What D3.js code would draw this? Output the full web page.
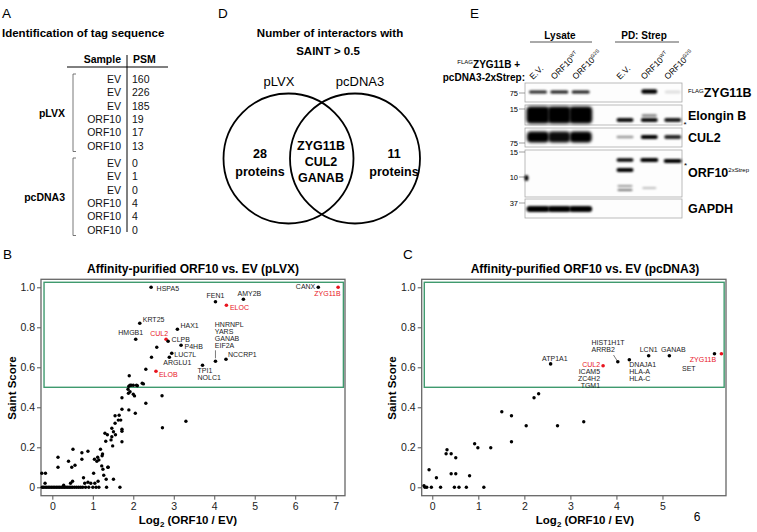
<!DOCTYPE html>
<html><head><meta charset="utf-8">
<script src="https://cdn.jsdelivr.net/npm/d3@7"></script>
<style>
body{margin:0;background:#fff}
svg{display:block}
text{font-family:"Liberation Sans",Arial,Helvetica,sans-serif}
</style>
</head><body>
<svg id="fig" width="757" height="532"></svg>
<script>
// ---------------- DATA ----------------
// Panel A
const tableGroups = ["pLVX", "pcDNA3"];
const tableSamples = ["EV", "EV", "EV", "ORF10", "ORF10", "ORF10"];
const psmPLVX = [160, 226, 185, 19, 17, 13];
const psmPcDNA3 = [0, 1, 0, 4, 4, 0];

// Panel D
const vennSets = ["pLVX", "pcDNA3"];
const vennUnique = [28, 11];
const vennShared = ["ZYG11B", "CUL2", "GANAB"];

// Panel B (pLVX) labeled points
const bLabeled = [
  {names:["HSPA5"], x:2.44, y:1.00, hit:false},
  {names:["FEN1"], x:4.03, y:0.928, hit:false},
  {names:["AMY2B"], x:4.72, y:0.94, hit:false},
  {names:["ELOC"], x:4.30, y:0.91, hit:true},
  {names:["CANX"], x:6.57, y:1.00, hit:false},
  {names:["ZYG11B"], x:7.06, y:1.00, hit:true},
  {names:["KRT25"], x:2.16, y:0.82, hit:false},
  {names:["HAX1"], x:3.09, y:0.79, hit:false},
  {names:["HMGB1"], x:2.06, y:0.74, hit:false},
  {names:["CUL2"], x:2.81, y:0.74, hit:true},
  {names:["CLPB"], x:2.86, y:0.73, hit:false},
  {names:["P4HB"], x:3.18, y:0.71, hit:false},
  {names:["LUC7L"], x:2.95, y:0.67, hit:false},
  {names:["ARGLU1"], x:2.89, y:0.65, hit:false},
  {names:["NCCRP1"], x:4.29, y:0.64, hit:false},
  {names:["HNRNPL","YARS","GANAB","EIF2A"], x:4.03, y:0.63, hit:false},
  {names:["TPI1","NOLC1"], x:3.71, y:0.61, hit:false},
  {names:["ELOB"], x:2.56, y:0.58, hit:true}
];
// Panel B unlabeled points
const bX = [2.58,2.45,2.31,1.90,2.22,2.08,1.92,1.95,1.89,2.00,1.87,1.92,2.00,2.03,1.88,2.71,1.72,2.31,1.89,1.72,2.05,2.72,3.30,1.65,1.55,1.69,1.63,1.72,1.72,1.55,1.47,1.51,1.30,1.36,1.56,1.47,1.72,1.45,1.32,1.49,1.23,1.38,1.22,
  -0.26,-0.17,0.14,0.14,0.51,0.40,0.48,0.56,0.73,0.88,0.73,1.04,1.12,1.15,1.10,1.19,1.24,0.77,1.02,1.25,1.37,1.27,1.33,1.51,1.67,1.34,0.95,0.88,0.80,1.05,1.13,0.50,0.45,-0.18,0.28,2.10,2.25,
  -0.25,-0.22,-0.18,-0.14,-0.10,-0.06,-0.02,0.02,0.06,0.10,0.14,0.18,0.22,0.26,0.30,0.34,0.38,0.42,0.46,0.50,0.55,0.60,0.65,0.70,0.75,0.82,0.90,1.00,1.08,1.15];
const bY = [0.70,0.65,0.59,0.558,0.52,0.51,0.51,0.51,0.505,0.51,0.49,0.478,0.465,0.457,0.47,0.458,0.448,0.42,0.387,0.39,0.37,0.298,0.33,0.36,0.358,0.336,0.336,0.29,0.28,0.32,0.295,0.278,0.27,0.263,0.263,0.253,0.228,0.237,0.23,0.207,0.158,0.10,0.107,
  0.07,0.07,0.15,0.10,0.19,0.13,0.10,0.11,0.173,0.18,0.14,0.14,0.15,0.137,0.13,0.19,0.167,0.048,0.07,0.09,0.10,0.06,0.04,0.04,0.0,0.0,0.02,0.025,0.02,0.02,0.03,0.03,0.02,0.02,0.01,0.508,0.517,
  0,0,0,0,0,0,0,0,0,0,0,0,0,0,0,0,0,0,0,0,0,0,0,0,0,0,0,0,0,0];

// Panel C (pcDNA3) labeled points
const cLabeled = [
  {names:["ATP1A1"], x:2.57, y:0.617, hit:false},
  {names:["CUL2","ICAM5","ZC4H2","TGM1"], x:3.71, y:0.608, hit:true},
  {names:["HIST1H1T","ARRB2"], x:4.03, y:0.628, hit:false},
  {names:["DNAJA1","HLA-A","HLA-C"], x:4.28, y:0.638, hit:false},
  {names:["LCN1"], x:4.70, y:0.658, hit:false},
  {names:["GANAB"], x:5.15, y:0.658, hit:false},
  {names:["SET"], x:6.13, y:0.668, hit:false},
  {names:["ZYG11B"], x:6.28, y:0.668, hit:true}
];
const cX = [2.31,2.21,1.51,1.72,2.04,2.72,3.29,1.72,1.27,0.92,0.99,0.32,0.30,0.41,0.51,-0.07,0.09,0.41,0.51,0.81,-0.18,-0.16,-0.12,-0.02,0.18,0.48,0.58,0.74,1.12];
const cY = [0.468,0.448,0.378,0.358,0.308,0.308,0.328,0.228,0.198,0.218,0.198,0.188,0.168,0.168,0.148,0.088,0.048,0.068,0.068,0.058,0.008,0,0,0,0,0,0,0,0];

const saintTicks = [0, 0.2, 0.4, 0.6, 0.8, 1.0];
const bXTicks = [0, 1, 2, 3, 4, 5, 6, 7];
const cXTicks = [0, 1, 2, 3, 4, 5];
const saintThreshold = 0.5;

// Panel E (western blot)
const blotLanes = ["E.V.", "ORF10", "ORF10", "E.V.", "ORF10", "ORF10"];
const blotLaneSup = ["", "WT", "G2S", "", "WT", "G2S"];
const blotGroups = ["Lysate", "PD: Strep"];
const blotRows = ["ZYG11B", "Elongin B", "CUL2", "ORF10", "GAPDH"];
const blotMarkers = [["75"], ["15"], ["75"], ["15", "10"], ["37"]];
const intZYG11B = [0.85, 0.9, 0.9, 0, 1, 0.12];
const intElonginB = [1, 1, 1, 0.95, 0.95, 0.9];
const intCUL2 = [1, 0.95, 1, 0.4, 1, 0.85];
const intORF10 = [0, 0, 0, 1, 1, 1];
const intGAPDH = [1, 1, 1, 0, 0, 0];

// ---------------- DRAW ----------------
const svg = d3.select("#fig");
const FONT = '"Liberation Sans",Arial,Helvetica,sans-serif';
const defs = svg.append("defs");
defs.append("filter").attr("id","blur").attr("x","-50%").attr("y","-100%").attr("width","200%").attr("height","300%")
  .append("feGaussianBlur").attr("stdDeviation", 0.9);
defs.append("filter").attr("id","blur2").attr("x","-50%").attr("y","-50%").attr("width","200%").attr("height","200%")
  .append("feGaussianBlur").attr("stdDeviation", 1.6);

function panelLetter(t, x, y) {
  svg.append("text").attr("x", x).attr("y", y).attr("font-size", 13.5).text(t);
}

// ----- Panel A -----
panelLetter("A", 2, 18);
svg.append("text").attr("x", 2).attr("y", 37).attr("font-size", 11.5).attr("font-weight", "bold")
  .text("Identification of tag sequence");
const gA = svg.append("g");
gA.append("text").attr("x", 121).attr("y", 63).attr("text-anchor","end").attr("font-size",10.5).attr("font-weight","bold").text("Sample");
gA.append("text").attr("x", 133).attr("y", 63).attr("font-size",10.5).attr("font-weight","bold").text("PSM");
gA.append("line").attr("x1",67).attr("x2",168).attr("y1",67).attr("y2",67).attr("stroke","#000").attr("stroke-width",1);
gA.append("line").attr("x1",127).attr("x2",127).attr("y1",55).attr("y2",232).attr("stroke","#000").attr("stroke-width",1);
const psmGroups = [psmPLVX, psmPcDNA3];
const rowStep = 13.3;
tableGroups.forEach((grp, gi) => {
  const y0 = gi === 0 ? 83 : 167;
  const vals = psmGroups[gi];
  tableSamples.forEach((s, i) => {
    const yy = y0 + i * rowStep;
    gA.append("text").attr("x",121).attr("y",yy).attr("text-anchor","end").attr("font-size",10.5).attr("fill","#111").text(s);
    gA.append("text").attr("x",132).attr("y",yy).attr("font-size",10.5).attr("fill","#111").text(vals[i]);
  });
  const top = y0 - 9, bot = y0 + (tableSamples.length - 1) * rowStep + 2;
  gA.append("path").attr("d", `M76,${top} H73 V${bot} H76`).attr("fill","none").attr("stroke","#555").attr("stroke-width",0.8);
  gA.append("text").attr("x", 65).attr("y", (top + bot) / 2 + 4).attr("text-anchor","end")
    .attr("font-size",10.5).attr("font-weight","bold").text(grp);
});

// ----- Panel D -----
panelLetter("D", 218, 18);
svg.append("text").attr("x",330).attr("y",37).attr("text-anchor","middle").attr("font-size",11.5).attr("font-weight","bold").text("Number of interactors with");
svg.append("text").attr("x",328).attr("y",55).attr("text-anchor","middle").attr("font-size",11.5).attr("font-weight","bold").text("SAINT > 0.5");
const vennCx = [288.5, 355];
const vennCy = 158.5, vennR = 65;
vennSets.forEach((s, i) => {
  svg.append("circle").attr("cx", vennCx[i]).attr("cy", vennCy).attr("r", vennR)
    .attr("fill","none").attr("stroke","#000").attr("stroke-width",1.8);
  svg.append("text").attr("x", i === 0 ? 279 : 360).attr("y", 86).attr("text-anchor","middle").attr("font-size",13).text(s);
  const ux = i === 0 ? 260 : 394;
  svg.append("text").attr("x", ux).attr("y", 158).attr("text-anchor","middle").attr("font-size",12.5).attr("font-weight","bold").text(vennUnique[i]);
  svg.append("text").attr("x", ux).attr("y", 176).attr("text-anchor","middle").attr("font-size",12.5).attr("font-weight","bold").text("proteins");
});
vennShared.forEach((s, i) => {
  svg.append("text").attr("x", 321).attr("y", 150 + i * 16).attr("text-anchor","middle").attr("font-size",12.5).attr("font-weight","bold").text(s);
});

// ----- Scatter panels -----
function scatter(opts) {
  const g = svg.append("g");
  const x = d3.scaleLinear().domain(opts.xDomain).range(opts.xRange);
  const y = d3.scaleLinear().domain([-0.042, 1.04]).range([495.7, 279.3]);
  const [x0, x1] = opts.xRange;
  g.append("text").attr("x", opts.titleX).attr("y", 273).attr("text-anchor","middle")
    .attr("font-size", 12).attr("font-weight","bold").text(opts.title);
  const ax = g.append("g").attr("transform", `translate(0,${y.range()[0]})`)
    .call(d3.axisBottom(x).tickValues(opts.xTicks).tickFormat(d3.format("d")).tickSize(4).tickPadding(3));
  const ay = g.append("g").attr("transform", `translate(${x0},0)`)
    .call(d3.axisLeft(y).tickValues(saintTicks).tickFormat(d => d === 0 ? "0" : d.toFixed(1)).tickSize(4).tickPadding(2));
  [ax, ay].forEach(a => {
    a.select(".domain").remove();
    a.selectAll(".tick line").attr("stroke","#555").attr("stroke-width",1);
    a.selectAll(".tick text").attr("font-size", 10.5).attr("font-family", FONT).attr("fill","#222");
  });
  g.append("rect").attr("x", x0).attr("y", y.range()[1]).attr("width", x1 - x0).attr("height", y.range()[0] - y.range()[1])
    .attr("fill","none").attr("stroke","#666").attr("stroke-width",1.3);
  g.append("rect").attr("x", x(opts.boxX[0])).attr("y", y(1.025))
    .attr("width", x(opts.boxX[1]) - x(opts.boxX[0])).attr("height", y(saintThreshold) - y(1.025))
    .attr("fill","none").attr("stroke","#3f9a6e").attr("stroke-width",1.4);
  const xl = g.append("text").attr("x", opts.xLabelX).attr("y", 524).attr("text-anchor","middle")
    .attr("font-size",11.5).attr("font-weight","bold");
  xl.append("tspan").text("Log");
  xl.append("tspan").attr("font-size",8).attr("dy",3).text("2");
  xl.append("tspan").attr("dy",-3).text(" (ORF10 / EV)");
  g.append("text").attr("transform", `translate(${opts.yLabelX},388) rotate(-90)`).attr("text-anchor","middle")
    .attr("font-size",11.5).attr("font-weight","bold").text("Saint Score");
  g.selectAll("circle.pt").data(d3.zip(opts.xs, opts.ys)).join("circle").attr("class","pt")
    .attr("cx", d => x(d[0])).attr("cy", d => y(d[1])).attr("r", 1.7).attr("fill","#000");
  opts.labeled.forEach(p => {
    const px = x(p.x), py = y(p.y);
    const col = p.hit ? "#e8141e" : "#000";
    const L = opts.layout[p.names[0]];
    if (L.leader) {
      g.append("line").attr("x1", px + L.leader[0]).attr("y1", py + L.leader[1])
        .attr("x2", px + L.leader[2]).attr("y2", py + L.leader[3]).attr("stroke","#444").attr("stroke-width",0.7);
    }
    g.append("circle").attr("cx", px).attr("cy", py).attr("r", 1.8).attr("fill", col);
    p.names.forEach((n, i) => {
      g.append("text").attr("x", px + L.dx).attr("y", py + L.dy + i * (L.step || 6.8))
        .attr("text-anchor", L.anchor).attr("font-size", 7)
        .attr("fill", (p.hit && i === 0) ? "#e8141e" : "#222").text(n);
    });
  });
  return g;
}

panelLetter("B", 3, 259);
scatter({
  title: "Affinity-purified ORF10 vs. EV (pLVX)", titleX: 193,
  xDomain: [-0.28, 7.23], xRange: [41, 345], xTicks: bXTicks, boxX: [-0.205, 7.19],
  xLabelX: 188, yLabelX: 16,
  xs: bX, ys: bY, labeled: bLabeled,
  layout: {
    HSPA5:{dx:5.5,dy:4,anchor:"start"}, FEN1:{dx:0,dy:-4,anchor:"middle"}, AMY2B:{dx:6,dy:-3,anchor:"middle"},
    ELOC:{dx:3.5,dy:5,anchor:"start"}, CANX:{dx:-3,dy:2,anchor:"end"}, ZYG11B:{dx:2.5,dy:9,anchor:"end"},
    KRT25:{dx:3,dy:-1,anchor:"start"}, HAX1:{dx:3,dy:-1,anchor:"start"}, HMGB1:{dx:-5,dy:-4,anchor:"middle"},
    CUL2:{dx:-7,dy:-3,anchor:"middle"}, CLPB:{dx:3.5,dy:1,anchor:"start"}, P4HB:{dx:3.5,dy:4,anchor:"start"},
    LUC7L:{dx:2.5,dy:4,anchor:"start"}, ARGLU1:{dx:8,dy:8,anchor:"middle"}, NCCRP1:{dx:2,dy:-2.5,anchor:"start"},
    HNRNPL:{dx:-0.7,dy:-34,anchor:"start",step:6.8,leader:[0,-3,0,-11]},
    TPI1:{dx:-5,dy:7.7,anchor:"start",step:6.8}, ELOB:{dx:3,dy:5.5,anchor:"start"}
  }
});

panelLetter("C", 403, 259);
scatter({
  title: "Affinity-purified ORF10 vs. EV (pcDNA3)", titleX: 585,
  xDomain: [-0.23, 6.38], xRange: [421.7, 726], xTicks: cXTicks, boxX: [-0.174, 6.34],
  xLabelX: 585, yLabelX: 396,
  xs: cX, ys: cY, labeled: cLabeled,
  layout: {
    ATP1A1:{dx:4.3,dy:-3.3,anchor:"middle"}, CUL2:{dx:-3,dy:1.7,anchor:"end",step:6.8},
    HIST1H1T:{dx:-26.3,dy:-16.5,anchor:"start",step:6.8,leader:[-4.3,-6.7,-0.7,-1]},
    DNAJA1:{dx:0,dy:7.7,anchor:"start",step:6.8}, LCN1:{dx:0,dy:-3.7,anchor:"middle"},
    GANAB:{dx:4,dy:-3.7,anchor:"middle"}, SET:{dx:-25.7,dy:17.3,anchor:"middle"}, ZYG11B:{dx:-5.3,dy:8,anchor:"end"}
  }
});
svg.append("text").attr("x", 697).attr("y", 521).attr("text-anchor","middle").attr("font-size", 12).text("6");

// ----- Panel E -----
panelLetter("E", 470, 18);
const gE = svg.append("g");
const laneCenters = [538, 559.3, 580.7, 625, 649.3, 672.7];
const boxL = 525, boxR = 682;
blotGroups.forEach((gname, i) => {
  const cx = i === 0 ? 560 : 644;
  const x1 = i === 0 ? 530 : 615, x2 = i === 0 ? 592 : 679;
  gE.append("text").attr("x", cx).attr("y", 38.5).attr("text-anchor","middle").attr("font-size",10).attr("font-weight","bold").text(gname);
  gE.append("line").attr("x1",x1).attr("x2",x2).attr("y1",42).attr("y2",42).attr("stroke","#555").attr("stroke-width",1);
});
const hdr = gE.append("text").attr("x", 520).attr("y", 68).attr("text-anchor","end").attr("font-size",10).attr("font-weight","bold");
hdr.append("tspan").attr("font-size",6).attr("dy",-4).attr("font-weight","normal").text("FLAG");
hdr.append("tspan").attr("dy",4).text("ZYG11B +");
gE.append("text").attr("x", 525).attr("y", 81).attr("text-anchor","end").attr("font-size",10).attr("font-weight","bold").text("pcDNA3-2xStrep:");
blotLanes.forEach((l, i) => {
  const t = gE.append("text").attr("transform", `translate(${laneCenters[i] - 5},80) rotate(-45)`).attr("font-size",8.5);
  t.append("tspan").text(l);
  if (blotLaneSup[i]) t.append("tspan").attr("font-size",5).attr("dy",-3.5).text(blotLaneSup[i]);
});
const rowBoxes = [[83,102],[105,125],[128,147],[150,197],[199,218]];
const markerY = [[93],[109],[143],[152,177],[203]];
rowBoxes.forEach((b, r) => {
  gE.append("rect").attr("x", boxL).attr("y", b[0]).attr("width", boxR - boxL).attr("height", b[1] - b[0])
    .attr("fill","#fdfdfd").attr("stroke","#aaa").attr("stroke-width",0.8);
  blotMarkers[r].forEach((m, k) => {
    gE.append("text").attr("x", 518).attr("y", markerY[r][k] + 2.5).attr("text-anchor","end").attr("font-size",7.5).text(m);
    gE.append("line").attr("x1",519).attr("x2",525).attr("y1",markerY[r][k]).attr("y2",markerY[r][k]).attr("stroke","#777").attr("stroke-width",0.7);
  });
});
function band(lane, cy, h, w, op, blurId) {
  if (op <= 0) return;
  gE.append("rect").attr("x", laneCenters[lane] - w / 2).attr("y", cy - h / 2).attr("width", w).attr("height", h)
    .attr("rx", Math.min(h / 2, 4)).attr("fill", "#000").attr("opacity", op).attr("filter", `url(#${blurId || "blur"})`);
}
intZYG11B.forEach((v, i) => band(i, i === 4 ? 91.5 : 92, i === 4 ? 4.5 : 3, i >= 3 ? 16 : 18, v));
intElonginB.forEach((v, i) => {
  if (i < 3) band(i, 115, 17, 23, v, "blur2");
  else band(i, 120, 4, 17, v);
});
band(4, 115.5, 2.5, 15, 0.5);
intCUL2.forEach((v, i) => {
  if (i < 3) band(i, 137, 11, 22, v, "blur2");
  else band(i, 137, i === 3 ? 2.5 : 4, 17, v);
});
band(3, 160, 3.5, 17, intORF10[3]); band(3, 170, 4, 17, intORF10[3]);
band(3, 186, 2, 15, 0.4); band(3, 190, 2, 15, 0.55);
band(4, 160, 4, 18, intORF10[4]); band(4, 188, 1.8, 14, 0.25);
band(5, 161, 4, 18, intORF10[5]);
gE.append("ellipse").attr("cx", 526.5).attr("cy", 178).attr("rx", 2).attr("ry", 3).attr("fill","#000").attr("filter","url(#blur)");
intGAPDH.forEach((v, i) => band(i, 209, 6, 23, v));
const rl = [[97,"ZYG11B","FLAG",""],[120,"Elongin B","",""],[142,"CUL2","",""],[177,"ORF10","","2xStrep"],[213,"GAPDH","",""]];
rl.forEach(([yy, name, pre, post]) => {
  const t = gE.append("text").attr("x", 688).attr("y", yy).attr("font-size", 12.5).attr("font-weight","bold");
  if (pre) { t.append("tspan").attr("font-size",6).attr("font-weight","normal").attr("dy",-4.5).text(pre); t.append("tspan").attr("dy",4.5).text(name); }
  else t.append("tspan").text(name);
  if (post) t.append("tspan").attr("font-size",6).attr("font-weight","normal").attr("dy",-5).text(post);
});
gE.append("text").attr("x", 683.5).attr("y", 127).attr("font-size", 8).text("*");
gE.append("text").attr("x", 684).attr("y", 168).attr("font-size", 8).text("*");
</script>
</body></html>
